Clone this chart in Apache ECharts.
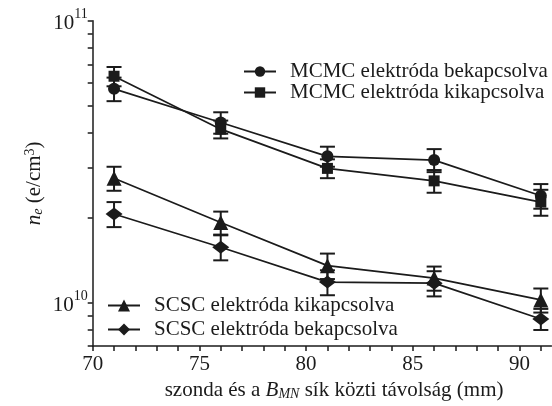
<!DOCTYPE html>
<html>
<head>
<meta charset="utf-8">
<script src="https://cdn.jsdelivr.net/npm/echarts@6/dist/echarts.min.js"></script>
<style>
  html, body { margin: 0; padding: 0; background: #fff; }
  #chart { width: 552px; height: 406px; }
</style>
</head>
<body>
<div id="chart"></div>
<script>
// Probe distance from the B_MN plane (mm)
const distances = [71, 76, 81, 86, 91];

// Electron density n_e (e/cm^3) and its uncertainty for each configuration
const mcmcOn = [5.73e10, 4.35e10, 3.30e10, 3.20e10, 2.39e10];
const mcmcOnErr = [0.55e10, 0.38e10, 0.27e10, 0.30e10, 0.24e10];
const mcmcOff = [6.35e10, 4.12e10, 2.99e10, 2.70e10, 2.27e10];
const mcmcOffErr = [0.50e10, 0.30e10, 0.23e10, 0.25e10, 0.24e10];
const scscOff = [2.76e10, 1.92e10, 1.35e10, 1.22e10, 1.02e10];
const scscOffErr = [0.27e10, 0.18e10, 0.14e10, 0.12e10, 0.10e10];
const scscOn = [2.06e10, 1.57e10, 1.18e10, 1.17e10, 0.873e10];
const scscOnErr = [0.21e10, 0.16e10, 0.12e10, 0.12e10, 0.075e10];

// Axis ticks
const xTicks = [70, 71, 72, 73, 74, 75, 76, 77, 78, 79, 80, 81, 82, 83, 84, 85, 86, 87, 88, 89, 90, 91];
const xLabels = [70, 75, 80, 85, 90];
const yTicks = [7e9, 8e9, 9e9, 1e10, 2e10, 3e10, 4e10, 5e10, 6e10, 7e10, 8e10, 9e10, 1e11];
const yLabels = [1e10, 1e11];

const names = {
  mcmcOn: 'MCMC elektróda bekapcsolva',
  mcmcOff: 'MCMC elektróda kikapcsolva',
  scscOff: 'SCSC elektróda kikapcsolva',
  scscOn: 'SCSC elektróda bekapcsolva'
};

const FONT = '"Liberation Serif", "Times New Roman", serif';
const INK = '#1b1b1b';
const FS = 21;

function pairs(vals) {
  return distances.map((x, i) => [x, vals[i]]);
}
function errData(vals, errs) {
  return distances.map((x, i) => [x, vals[i], errs[i]]);
}

function lineSeries(name, vals, symbol, size) {
  return {
    type: 'line',
    name: name,
    data: pairs(vals),
    symbol: symbol,
    symbolSize: size,
    showAllSymbol: true,
    lineStyle: { color: INK, width: 1.7 },
    itemStyle: { color: INK, borderWidth: 0 },
    z: 5,
    animation: false
  };
}

function errorSeries(vals, errs) {
  return {
    type: 'custom',
    data: errData(vals, errs),
    z: 3,
    silent: true,
    animation: false,
    encode: { x: 0, y: 1 },
    renderItem: function (params, api) {
      const x = api.value(0), v = api.value(1), e = api.value(2);
      const hi = api.coord([x, v + e]);
      const lo = api.coord([x, v - e]);
      const w = 7.5;
      const style = { stroke: INK, lineWidth: 2 };
      return {
        type: 'group',
        children: [
          { type: 'line', shape: { x1: hi[0], y1: hi[1], x2: lo[0], y2: lo[1] }, style: style },
          { type: 'line', shape: { x1: hi[0] - w, y1: hi[1], x2: hi[0] + w, y2: hi[1] }, style: style },
          { type: 'line', shape: { x1: lo[0] - w, y1: lo[1], x2: lo[0] + w, y2: lo[1] }, style: style }
        ]
      };
    }
  };
}

const legendText = { fontFamily: FONT, fontSize: FS, color: INK, lineHeight: 20, padding: [0, 0, 0, 9] };

const chart = echarts.init(document.getElementById('chart'), null, { renderer: 'canvas' });
chart.setOption({
  backgroundColor: '#fff',
  animation: false,
  grid: { left: 92.7, right: 0.5, top: 20.7, bottom: 57.9 },
  legend: [
    {
      data: [names.mcmcOn, names.mcmcOff],
      orient: 'vertical',
      left: 243, top: 61,
      padding: 0,
      itemGap: 0,
      itemWidth: 32, itemHeight: 13,
      textStyle: legendText,
      selectedMode: false
    },
    {
      data: [names.scscOff, names.scscOn],
      orient: 'vertical',
      left: 107, top: 295,
      padding: 0,
      itemGap: 3,
      itemWidth: 32, itemHeight: 15,
      textStyle: legendText,
      selectedMode: false
    }
  ],
  xAxis: {
    type: 'value',
    min: 70, max: 91.5,
    name: '{t|szonda és a }{i|B}{sub|MN}{t| sík közti távolság (mm)}',
    nameLocation: 'middle',
    nameGap: 34,
    nameTextStyle: {
      padding: [0, 0, 0, 24],
      rich: {
        t: { fontFamily: FONT, fontSize: FS, color: INK },
        i: { fontFamily: FONT, fontSize: FS, color: INK, fontStyle: 'italic' },
        sub: { fontFamily: FONT, fontSize: 14, color: INK, fontStyle: 'italic', verticalAlign: 'bottom', padding: [6, 0, 0, 0] }
      }
    },
    axisLine: { lineStyle: { color: INK, width: 1.5 } },
    axisTick: { show: true, inside: false, length: 5, customValues: xTicks, lineStyle: { color: INK, width: 1.5 } },
    minorTick: { show: false },
    axisLabel: {
      customValues: xLabels,
      margin: 8,
      fontFamily: FONT, fontSize: FS, color: INK
    },
    splitLine: { show: false }
  },
  yAxis: {
    type: 'log',
    logBase: 10,
    min: 7e9, max: 1e11,
    name: '{i|n}{sub|e}{t| (e/cm}{sup|3}{t|)}',
    nameLocation: 'middle',
    nameRotate: 90,
    nameGap: 47,
    nameMoveOverlap: false,
    nameTextStyle: {
      rich: {
        t: { fontFamily: FONT, fontSize: FS, color: INK },
        i: { fontFamily: FONT, fontSize: FS, color: INK, fontStyle: 'italic' },
        sub: { fontFamily: FONT, fontSize: 14, color: INK, fontStyle: 'italic', verticalAlign: 'bottom', padding: [6, 0, 0, 0] },
        sup: { fontFamily: FONT, fontSize: 14, color: INK, verticalAlign: 'top', padding: [0, 0, 8, 0] }
      }
    },
    axisLine: { show: true, lineStyle: { color: INK, width: 1.5 } },
    axisTick: { show: true, inside: false, length: 5, customValues: yTicks, lineStyle: { color: INK, width: 1.5 } },
    axisLabel: {
      customValues: yLabels,
      margin: 5,
      formatter: function (v) {
        return '{b|10}{s|' + Math.round(Math.log10(v)) + '}';
      },
      rich: {
        b: { fontFamily: FONT, fontSize: FS, color: INK, padding: [6, 0, 0, 0] },
        s: { fontFamily: FONT, fontSize: 14, color: INK, verticalAlign: 'top', padding: [0, 0, 4, 0] }
      }
    },
    splitLine: { show: false }
  },
  series: [
    errorSeries(mcmcOn, mcmcOnErr),
    errorSeries(mcmcOff, mcmcOffErr),
    errorSeries(scscOff, scscOffErr),
    errorSeries(scscOn, scscOnErr),
    lineSeries(names.mcmcOn, mcmcOn, 'circle', 12),
    lineSeries(names.mcmcOff, mcmcOff, 'rect', 11),
    lineSeries(names.scscOff, scscOff, 'triangle', 15),
    lineSeries(names.scscOn, scscOn, 'diamond', [17, 13])
  ]
});
</script>
</body>
</html>
